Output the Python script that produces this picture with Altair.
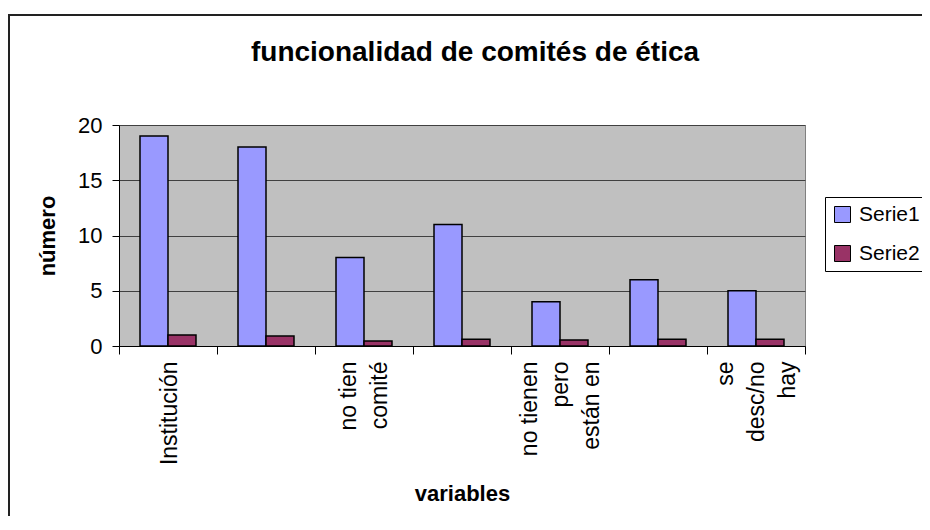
import json
import altair as alt
import pandas as pd

title_text = "funcionalidad de comités de ética"
x_title = "variables"
y_title = "número"
x_labels = [["Institución"], [""], ["no tien", "comité"], [""],
            ["no tienen", "pero", "están en"], [""], ["se", "desc/no", "hay"]]
series_names = ["Serie1", "Serie2"]
serie1 = [19, 18, 8, 11, 4, 6, 5]
serie2 = [1.0, 0.9, 0.45, 0.6, 0.55, 0.6, 0.6]
series_colors = ["#9999FF", "#993366"]
y_ticks = [0, 5, 10, 15, 20]

FONT = "Liberation Sans"
LINE_H = 31

cat_keys = [str(i) for i in range(len(x_labels))]
rows = []
for i, k in enumerate(cat_keys):
    rows.append({"cat": k, "serie": series_names[0], "valor": serie1[i]})
    rows.append({"cat": k, "serie": series_names[1], "valor": serie2[i]})
df = pd.DataFrame(rows)

label_expr = json.dumps(x_labels, ensure_ascii=False) + "[toNumber(datum.value)]"

# shift multi-line labels so the block of lines is centred on its tick
offset_conditions = [
    {"test": f"datum.value == '{k}'", "value": -LINE_H * (len(x_labels[i]) - 1) / 2}
    for i, k in enumerate(cat_keys) if len(x_labels[i]) > 1
]
label_offset = {"condition": offset_conditions, "value": 1}

bars = alt.Chart(df).mark_bar(stroke="black", strokeWidth=1.5).encode(
    x=alt.X("cat:N", sort=cat_keys,
            scale=alt.Scale(paddingInner=0, paddingOuter=0),
            axis=alt.Axis(title=x_title, labelExpr=label_expr, labelAngle=-90,
                          tickBand="extent", grid=False, tickSize=8,
                          labelFontSize=23, labelLineHeight=LINE_H,
                          labelOffset=label_offset,
                          labelPadding=7,
                          labelFont=FONT, titleFont=FONT, titleFontSize=22,
                          titleFontWeight="bold", titlePadding=19,
                          domainColor="black", tickColor="black",
                          labelColor="black", titleColor="black")),
    xOffset=alt.XOffset("serie:N", sort=series_names,
                        scale=alt.Scale(paddingInner=0, paddingOuter=0.75)),
    y=alt.Y("valor:Q", scale=alt.Scale(domain=[0, 20]),
            axis=alt.Axis(title=y_title, values=y_ticks, grid=True,
                          gridColor="#404040", tickSize=7, labelFontSize=22,
                          labelPadding=10, labelFont=FONT, titleFont=FONT,
                          titleFontSize=22, titleFontWeight="bold",
                          titlePadding=18, domainColor="black",
                          tickColor="black", labelColor="black",
                          titleColor="black")),
    color=alt.Color("serie:N",
                    scale=alt.Scale(domain=series_names, range=series_colors),
                    legend=alt.Legend(title=None, orient="none", legendX=706,
                                      legendY=72, strokeColor="black",
                                      fillColor="white", padding=7,
                                      symbolType="square", symbolSize=256,
                                      symbolStrokeColor="black",
                                      symbolStrokeWidth=1, labelFontSize=21,
                                      labelFont=FONT, labelColor="black",
                                      rowPadding=17, labelOffset=6)),
)

frame = alt.Chart(pd.DataFrame({"f": [0]})).mark_rect(
    filled=False, stroke="#222222", strokeWidth=2, clip=False
).encode(
    x=alt.value(-110), x2=alt.value(900), y=alt.value(-110), y2=alt.value(500)
)

chart = alt.layer(frame, bars).properties(
    width=686,
    height=221,
    title=alt.Title(title_text, fontSize=28, font=FONT, fontWeight="bold",
                    anchor="middle", frame="group", baseline="alphabetic",
                    dx=13, dy=75, offset=0, color="black"),
    autosize=alt.AutoSizeParams(type="none"),
    padding={"left": 111, "top": 117, "right": 117, "bottom": 170},
).configure(background="white").configure_view(stroke="#808080", fill="#C0C0C0")

chart.save("out.html", embed_options={"renderer": "svg", "actions": False})
